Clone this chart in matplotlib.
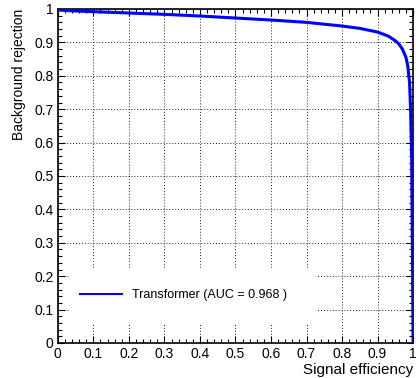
import matplotlib
matplotlib.use('Agg')
import matplotlib.pyplot as plt
from matplotlib.ticker import MultipleLocator
from matplotlib.patches import Rectangle

plt.rcParams['font.family'] = ['Liberation Sans', 'DejaVu Sans']

# ROC curve
sig_eff = [0.0, 0.05, 0.1, 0.2, 0.3, 0.4, 0.5, 0.6, 0.7, 0.8, 0.85, 0.9,
           0.93, 0.95, 0.96, 0.97, 0.98, 0.985, 0.99, 0.993, 0.996, 0.998, 1.0]
bkg_rej = [0.997, 0.994, 0.992, 0.988, 0.984, 0.979, 0.973, 0.967, 0.960,
           0.949, 0.942, 0.931, 0.919, 0.905, 0.895, 0.880, 0.855, 0.830,
           0.780, 0.700, 0.550, 0.300, 0.0]
label = 'Transformer (AUC = 0.968 )'
ticks = [0.0, 0.1, 0.2, 0.3, 0.4, 0.5, 0.6, 0.7, 0.8, 0.9, 1.0]
tick_labels = ['0', '0.1', '0.2', '0.3', '0.4', '0.5', '0.6', '0.7', '0.8', '0.9', '1']

fig = plt.figure(figsize=(4.16, 3.78), dpi=100)
ax = fig.add_axes([0.139, 0.0926, 0.854, 0.8836])

ax.plot(sig_eff, bkg_rej, color='#0000ff', lw=2.2, zorder=3, label=label)

ax.set_xlim(0, 1)
ax.set_ylim(0, 1)
ax.set_xticks(ticks)
ax.set_xticklabels(tick_labels)
ax.set_yticks(ticks)
ax.set_yticklabels(tick_labels)
ax.xaxis.set_minor_locator(MultipleLocator(0.02))
ax.yaxis.set_minor_locator(MultipleLocator(0.02))
ax.tick_params(which='both', direction='in', top=True, right=True, labelsize=10, width=0.8)
ax.tick_params(which='major', length=5, pad=3)
ax.tick_params(which='minor', length=3)
for s in ax.spines.values():
    s.set_linewidth(1.2)

ax.grid(True, which='major', color='#222222', ls=(0, (1, 2)), lw=0.7, zorder=0)
ax.set_axisbelow(True)

# white legend area hides the grid
ax.add_patch(Rectangle((0.031, 0.06), 0.696, 0.165, transform=ax.transAxes,
                       facecolor='white', edgecolor='none', zorder=1))
leg = ax.legend(loc='center left', bbox_to_anchor=(0.062, 0.144), frameon=False,
                fontsize=9, handlelength=3.4, handletextpad=0.75,
                borderpad=0, borderaxespad=0)
leg.get_lines()[0].set_linewidth(1.5)

ax.set_xlabel('Signal efficiency', loc='right', fontsize=11, labelpad=1)
ax.set_ylabel('Background rejection', loc='top', fontsize=10, labelpad=6)

fig.savefig('out.png', dpi=100)
